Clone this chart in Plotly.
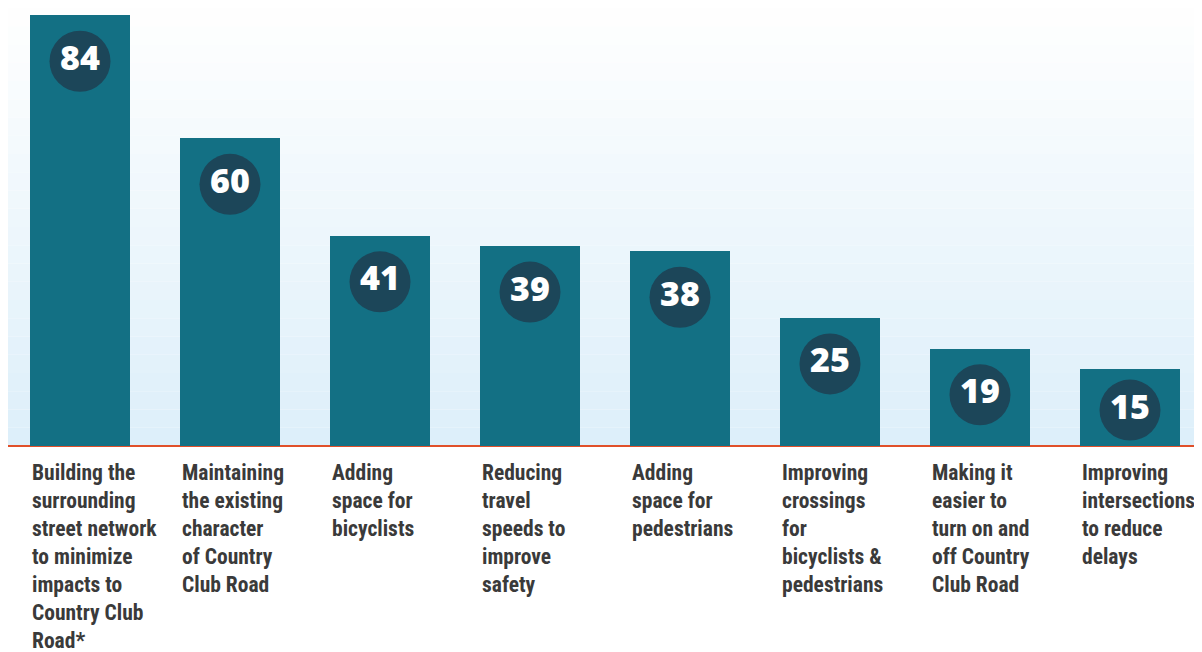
import plotly.graph_objects as go

categories = [
    "Building the<br>surrounding<br>street network<br>to minimize<br>impacts to<br>Country Club<br>Road*",
    "Maintaining<br>the existing<br>character<br>of Country<br>Club Road",
    "Adding<br>space for<br>bicyclists",
    "Reducing<br>travel<br>speeds to<br>improve<br>safety",
    "Adding<br>space for<br>pedestrians",
    "Improving<br>crossings<br>for<br>bicyclists &<br>pedestrians",
    "Making it<br>easier to<br>turn on and<br>off Country<br>Club Road",
    "Improving<br>intersections<br>to reduce<br>delays",
]
values = [84, 60, 41, 39, 38, 25, 19, 15]

BAR = "#137084"
CIRCLE = "#1c4659"
TEXT = "#3a3a3a"
BASE = "#e0502a"

x = list(range(len(values)))
circle_y = [max(v - 9, 7) for v in values]

fig = go.Figure()
fig.add_trace(go.Bar(
    x=x, y=values, width=0.667,
    marker=dict(color=BAR, line=dict(width=0)),
    hoverinfo="skip",
))
fig.add_trace(go.Scatter(
    x=x, y=circle_y, mode="markers+text",
    marker=dict(size=61, color=CIRCLE, line=dict(width=0)),
    text=[str(v) for v in values],
    textposition="middle center",
    textfont=dict(family="Open Sans, Lato, sans-serif", size=34, color="white", weight=800),
    hoverinfo="skip",
))

# background gradient (white at top to pale blue at baseline)
n = 24
for k in range(n):
    t = (k + 0.5) / n
    r = int(255 - (255 - 221) * t)
    g = int(255 - (255 - 239) * t)
    b = int(255 - (255 - 250) * t)
    fig.add_shape(type="rect", xref="paper", yref="y domain",
                  x0=0, x1=1, y0=1 - (k + 1) / n, y1=1 - k / n,
                  fillcolor=f"rgb({r},{g},{b})", line=dict(width=0), layer="below")

for i, lab in enumerate(categories):
    lines = lab.split("<br>")
    styled = "<br>".join(f'<span style="font-stretch:83%">{ln}</span>' for ln in lines)
    fig.add_annotation(
        x=i - 0.3333, y=-0.027, xref="x", yref="y domain",
        text=styled, showarrow=False, xanchor="left", yanchor="top", align="left",
        font=dict(family="Roboto Condensed, Roboto, sans-serif", size=21.5, color=TEXT, weight="bold"),
    )

fig.update_layout(
    width=1194, height=644,
    margin=dict(l=0, r=0, t=0, b=206),
    paper_bgcolor="white", plot_bgcolor="rgba(0,0,0,0)",
    showlegend=False, bargap=0,
    xaxis=dict(range=[-0.48, 7.48], visible=False, fixedrange=True),
    yaxis=dict(range=[0, 85.38], visible=True, showticklabels=False, ticks="",
               showgrid=False, showline=False, zeroline=True, zerolinecolor=BASE,
               zerolinewidth=2, layer="above traces", fixedrange=True),
)

fig.write_html("out.html", config={"displayModeBar": False})
